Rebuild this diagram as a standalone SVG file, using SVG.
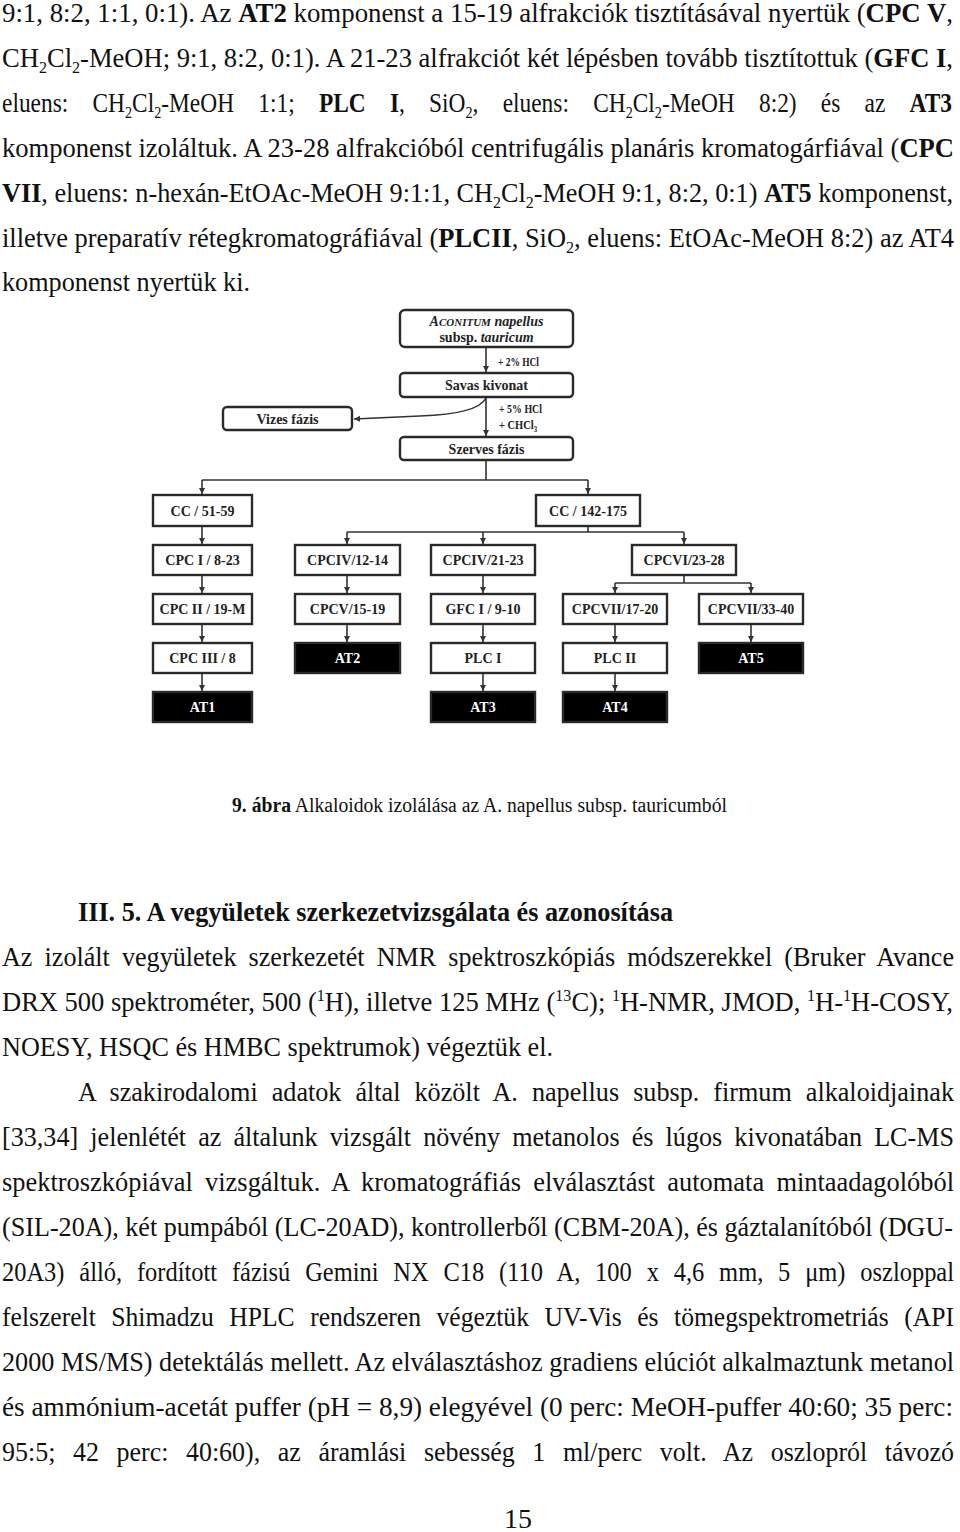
<svg xmlns="http://www.w3.org/2000/svg" width="960" height="1532" viewBox="0 0 960 1532">
<style>
.body{font-family:"Liberation Serif","Times New Roman",serif;font-size:28px;fill:#111}
.b{font-weight:bold}
.sub{font-size:17px}
.box{fill:#fff;stroke:#2a2a2a;stroke-width:2.4}
.blk{fill:#000;stroke:#2a2a2a;stroke-width:2.4}
.lbl{font-family:"Liberation Serif","Times New Roman",serif;font-size:14px;font-weight:bold;fill:#222;text-anchor:middle}
.wl{fill:#fff}
.note{font-family:"Liberation Serif","Times New Roman",serif;font-size:12.5px;font-weight:bold;fill:#222}
.con{fill:none;stroke:#333;stroke-width:1.6}
</style>
<defs>
<marker id="arr" markerWidth="7" markerHeight="7" refX="6" refY="3.5" orient="auto" markerUnits="userSpaceOnUse">
<path d="M0,0.5 L6,3.5 L0,6.5 Z" fill="#333"/>
</marker>
</defs>
<rect width="960" height="1532" fill="#fff"/>

<!-- upper body text -->
<g class="body">
<text x="2" y="22" textLength="951" lengthAdjust="spacingAndGlyphs">9:1, 8:2, 1:1, 0:1). Az <tspan class="b">AT2</tspan> komponenst a 15-19 alfrakciók tisztításával nyertük (<tspan class="b">CPC V</tspan>,</text>
<text x="2" y="67" textLength="951" lengthAdjust="spacingAndGlyphs">CH<tspan class="sub" dy="6">2</tspan><tspan dy="-6">Cl</tspan><tspan class="sub" dy="6">2</tspan><tspan dy="-6">-MeOH; 9:1, 8:2, 0:1). A 21-23 alfrakciót két lépésben tovább tisztítottuk (</tspan><tspan class="b">GFC I</tspan>,</text>
<text x="2" y="112" word-spacing="22" textLength="950" lengthAdjust="spacingAndGlyphs">eluens: CH<tspan class="sub" dy="6">2</tspan><tspan dy="-6">Cl</tspan><tspan class="sub" dy="6">2</tspan><tspan dy="-6">-MeOH 1:1; </tspan><tspan class="b">PLC I</tspan>, SiO<tspan class="sub" dy="6">2</tspan><tspan dy="-6">, eluens: CH</tspan><tspan class="sub" dy="6">2</tspan><tspan dy="-6">Cl</tspan><tspan class="sub" dy="6">2</tspan><tspan dy="-6">-MeOH 8:2) és az </tspan><tspan class="b">AT3</tspan></text>
<text x="2" y="157" textLength="952" lengthAdjust="spacingAndGlyphs">komponenst izoláltuk. A 23-28 alfrakcióból centrifugális planáris kromatogárfiával (<tspan class="b">CPC</tspan></text>
<text x="2" y="202" textLength="951" lengthAdjust="spacingAndGlyphs"><tspan class="b">VII</tspan>, eluens: n-hexán-EtOAc-MeOH 9:1:1, CH<tspan class="sub" dy="6">2</tspan><tspan dy="-6">Cl</tspan><tspan class="sub" dy="6">2</tspan><tspan dy="-6">-MeOH 9:1, 8:2, 0:1) </tspan><tspan class="b">AT5</tspan> komponenst,</text>
<text x="2" y="247" textLength="952" lengthAdjust="spacingAndGlyphs">illetve preparatív rétegkromatográfiával (<tspan class="b">PLCII</tspan>, SiO<tspan class="sub" dy="6">2</tspan><tspan dy="-6">, eluens: EtOAc-MeOH 8:2) az AT4</tspan></text>
<text x="2" y="291" textLength="248" lengthAdjust="spacingAndGlyphs">komponenst nyertük ki.</text>
</g>

<!-- connectors -->
<g id="connectors">
<path class="con" d="M486,347 V372" marker-end="url(#arr)"/>
<path class="con" d="M486,397 V436" marker-end="url(#arr)"/>
<path class="con" d="M486,398 Q478,414 420,416 L354,419" marker-end="url(#arr)"/>
<path class="con" d="M486,460 V480 M202,480 H588"/>
<path class="con" d="M202,480 V494" marker-end="url(#arr)"/>
<path class="con" d="M588,480 V494" marker-end="url(#arr)"/>
<path class="con" d="M202,526 V544" marker-end="url(#arr)"/>
<path class="con" d="M202,575 V593" marker-end="url(#arr)"/>
<path class="con" d="M202,624 V642" marker-end="url(#arr)"/>
<path class="con" d="M202,673 V691" marker-end="url(#arr)"/>
<path class="con" d="M588,526 V532 M347,532 H684"/>
<path class="con" d="M347,532 V544" marker-end="url(#arr)"/>
<path class="con" d="M483,532 V544" marker-end="url(#arr)"/>
<path class="con" d="M684,532 V544" marker-end="url(#arr)"/>
<path class="con" d="M347,575 V593" marker-end="url(#arr)"/>
<path class="con" d="M347,624 V642" marker-end="url(#arr)"/>
<path class="con" d="M483,575 V593" marker-end="url(#arr)"/>
<path class="con" d="M483,624 V642" marker-end="url(#arr)"/>
<path class="con" d="M483,673 V691" marker-end="url(#arr)"/>
<path class="con" d="M684,575 V583 M615,583 H751"/>
<path class="con" d="M615,583 V593" marker-end="url(#arr)"/>
<path class="con" d="M751,583 V593" marker-end="url(#arr)"/>
<path class="con" d="M615,624 V642" marker-end="url(#arr)"/>
<path class="con" d="M615,673 V691" marker-end="url(#arr)"/>
<path class="con" d="M751,624 V642" marker-end="url(#arr)"/>
</g>
<g id="step-labels">
<text class="note" x="498" y="366" textLength="41" lengthAdjust="spacingAndGlyphs">+ 2% HCl</text>
<text class="note" x="499" y="413" textLength="43" lengthAdjust="spacingAndGlyphs">+ 5% HCl</text>
<text class="note" x="499" y="429" textLength="38" lengthAdjust="spacingAndGlyphs">+ CHCl<tspan font-size="8" dy="3">3</tspan></text>
</g>

<!-- nodes -->
<g id="n-aconitum">
<rect class="box" x="400" y="310" width="173" height="37" rx="5"/>
<text class="lbl" x="486.5" y="326" font-style="italic">A<tspan font-size="11">CONITUM</tspan> napellus</text>
<text class="lbl" x="486.5" y="342">subsp. <tspan font-style="italic">tauricum</tspan></text>
</g>
<g id="n-savas">
<rect class="box" x="400" y="373" width="173" height="24" rx="4"/>
<text class="lbl" x="486.5" y="390">Savas kivonat</text>
</g>
<g id="n-vizes">
<rect class="box" x="223" y="407" width="129" height="23" rx="4"/>
<text class="lbl" x="287.5" y="423.5">Vizes fázis</text>
</g>
<g id="n-szerves">
<rect class="box" x="400" y="437" width="173" height="23" rx="4"/>
<text class="lbl" x="486.5" y="453.5">Szerves fázis</text>
</g>

<g id="n-cc51"><rect class="box" x="153" y="495" width="99" height="31"/><text class="lbl" x="202.5" y="515.5">CC / 51-59</text></g>
<g id="n-cc142"><rect class="box" x="536" y="495" width="104" height="31"/><text class="lbl" x="588" y="515.5">CC / 142-175</text></g>

<g id="n-cpc1"><rect class="box" x="153" y="545" width="99" height="30"/><text class="lbl" x="202.5" y="565">CPC I / 8-23</text></g>
<g id="n-cpciv12"><rect class="box" x="295" y="545" width="105" height="30"/><text class="lbl" x="347.5" y="565">CPCIV/12-14</text></g>
<g id="n-cpciv21"><rect class="box" x="431" y="545" width="104" height="30"/><text class="lbl" x="483" y="565">CPCIV/21-23</text></g>
<g id="n-cpcvi"><rect class="box" x="632" y="545" width="104" height="30"/><text class="lbl" x="684" y="565">CPCVI/23-28</text></g>

<g id="n-cpc2"><rect class="box" x="153" y="594" width="99" height="30"/><text class="lbl" x="202.5" y="614">CPC II / 19-M</text></g>
<g id="n-cpcv"><rect class="box" x="295" y="594" width="105" height="30"/><text class="lbl" x="347.5" y="614">CPCV/15-19</text></g>
<g id="n-gfc"><rect class="box" x="431" y="594" width="104" height="30"/><text class="lbl" x="483" y="614">GFC I / 9-10</text></g>
<g id="n-cpcvii17"><rect class="box" x="563" y="594" width="104" height="30"/><text class="lbl" x="615" y="614">CPCVII/17-20</text></g>
<g id="n-cpcvii33"><rect class="box" x="699" y="594" width="104" height="30"/><text class="lbl" x="751" y="614">CPCVII/33-40</text></g>

<g id="n-cpc3"><rect class="box" x="153" y="643" width="99" height="30"/><text class="lbl" x="202.5" y="663">CPC III / 8</text></g>
<g id="n-at2"><rect class="blk" x="295" y="643" width="105" height="30"/><text class="lbl wl" x="347.5" y="663">AT2</text></g>
<g id="n-plc1"><rect class="box" x="431" y="643" width="104" height="30"/><text class="lbl" x="483" y="663">PLC I</text></g>
<g id="n-plc2"><rect class="box" x="563" y="643" width="104" height="30"/><text class="lbl" x="615" y="663">PLC II</text></g>
<g id="n-at5"><rect class="blk" x="699" y="643" width="104" height="30"/><text class="lbl wl" x="751" y="663">AT5</text></g>

<g id="n-at1"><rect class="blk" x="153" y="692" width="99" height="30"/><text class="lbl wl" x="202.5" y="712">AT1</text></g>
<g id="n-at3"><rect class="blk" x="431" y="692" width="104" height="30"/><text class="lbl wl" x="483" y="712">AT3</text></g>
<g id="n-at4"><rect class="blk" x="563" y="692" width="104" height="30"/><text class="lbl wl" x="615" y="712">AT4</text></g>

<!-- caption -->
<text class="body" x="232" y="812" textLength="495" lengthAdjust="spacingAndGlyphs" style="font-size:20px"><tspan class="b">9. ábra</tspan> Alkaloidok izolálása az A. napellus subsp. tauricumból</text>

<!-- lower text -->
<g class="body">
<text class="b" x="78" y="921" textLength="595" lengthAdjust="spacingAndGlyphs">III. 5. A vegyületek szerkezetvizsgálata és azonosítása</text>
<text x="2" y="966" textLength="952" lengthAdjust="spacingAndGlyphs" word-spacing="6">Az izolált vegyületek szerkezetét NMR spektroszkópiás módszerekkel (Bruker Avance</text>
<text x="2" y="1011" textLength="951" lengthAdjust="spacingAndGlyphs">DRX 500 spektrométer, 500 (<tspan class="sub" dy="-10">1</tspan><tspan dy="10">H), illetve 125 MHz (</tspan><tspan class="sub" dy="-10">13</tspan><tspan dy="10">C); </tspan><tspan class="sub" dy="-10">1</tspan><tspan dy="10">H-NMR, JMOD, </tspan><tspan class="sub" dy="-10">1</tspan><tspan dy="10">H-</tspan><tspan class="sub" dy="-10">1</tspan><tspan dy="10">H-COSY,</tspan></text>
<text x="2" y="1056" textLength="551" lengthAdjust="spacingAndGlyphs">NOESY, HSQC és HMBC spektrumok) végeztük el.</text>
<text x="78" y="1101" textLength="876" lengthAdjust="spacingAndGlyphs" word-spacing="8">A szakirodalomi adatok által közölt A. napellus subsp. firmum alkaloidjainak</text>
<text x="2" y="1146" textLength="952" lengthAdjust="spacingAndGlyphs" word-spacing="6">[33,34] jelenlétét az általunk vizsgált növény metanolos és lúgos kivonatában LC-MS</text>
<text x="2" y="1191" textLength="952" lengthAdjust="spacingAndGlyphs" word-spacing="6">spektroszkópiával vizsgáltuk. A kromatográfiás elválasztást automata mintaadagolóból</text>
<text x="2" y="1236" textLength="951" lengthAdjust="spacingAndGlyphs">(SIL-20A), két pumpából (LC-20AD), kontrollerből (CBM-20A), és gáztalanítóból (DGU-</text>
<text x="2" y="1281" textLength="952" lengthAdjust="spacingAndGlyphs" word-spacing="10">20A3) álló, fordított fázisú Gemini NX C18 (110 A, 100 x 4,6 mm, 5 μm) oszloppal</text>
<text x="2" y="1326" textLength="952" lengthAdjust="spacingAndGlyphs" word-spacing="10">felszerelt Shimadzu HPLC rendszeren végeztük UV-Vis és tömegspektrometriás (API</text>
<text x="2" y="1371" textLength="952" lengthAdjust="spacingAndGlyphs">2000 MS/MS) detektálás mellett. Az elválasztáshoz gradiens elúciót alkalmaztunk metanol</text>
<text x="2" y="1416" textLength="951" lengthAdjust="spacingAndGlyphs">és ammónium-acetát puffer (pH = 8,9) elegyével (0 perc: MeOH-puffer 40:60; 35 perc:</text>
<text x="2" y="1461" textLength="952" lengthAdjust="spacingAndGlyphs" word-spacing="12">95:5; 42 perc: 40:60), az áramlási sebesség 1 ml/perc volt. Az oszlopról távozó</text>
<text x="518" y="1528" text-anchor="middle">15</text>
</g>
</svg>
